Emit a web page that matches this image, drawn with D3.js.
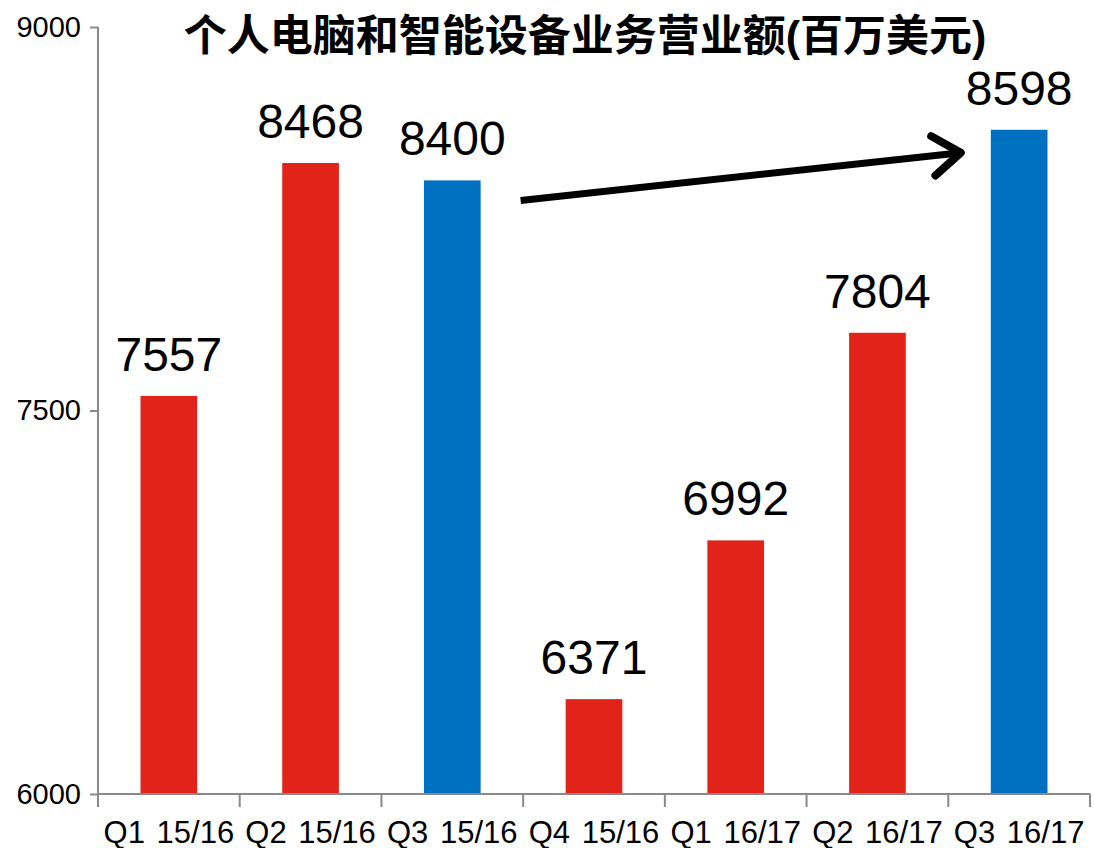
<!DOCTYPE html>
<html>
<head>
<meta charset="utf-8">
<script src="https://cdn.jsdelivr.net/npm/d3@7"></script>
<style>
  body { margin: 0; background: #fff; }
  svg { display: block; font-family: "Liberation Sans", Arial, sans-serif; }
</style>
</head>
<body>
<div class="chart"></div>
<script>
const quarters = ['Q1 15/16', 'Q2 15/16', 'Q3 15/16', 'Q4 15/16', 'Q1 16/17', 'Q2 16/17', 'Q3 16/17'];
const revenue = [7557, 8468, 8400, 6371, 6992, 7804, 8598];
const highlight = ['Q3 15/16', 'Q3 16/17'];
const yTicks = [6000, 7500, 9000];
const title = '个人电脑和智能设备业务营业额(百万美元)';

const width = 1094;
const height = 848;
const margin = {top: 27, right: 4, bottom: 54, left: 98};
const axisColor = '#898989';

const svg = d3.select('.chart')
              .append('svg')
              .attr('width', width)
              .attr('height', height);

const x = d3.scaleBand()
            .domain(quarters)
            .range([margin.left, width - margin.right])
            .paddingInner(0.6)
            .paddingOuter(0.3);

// band edges for the tick marks between categories
const xEdge = d3.scaleLinear()
                .domain([0, quarters.length])
                .range([margin.left, width - margin.right]);

const y = d3.scaleLinear()
            .domain([6000, 9000])
            .range([height - margin.bottom, margin.top]);

svg.selectAll('rect.bar')
   .data(quarters)
   .enter().append('rect')
   .attr('class', 'bar')
   .attr('x', d => x(d))
   .attr('width', x.bandwidth())
   .attr('y', (d, i) => y(revenue[i]))
   .attr('height', (d, i) => y(6000) - y(revenue[i]))
   .attr('fill', d => highlight.includes(d) ? '#0070C0' : '#E2231A');

svg.selectAll('text.value')
   .data(quarters)
   .enter().append('text')
   .attr('class', 'value')
   .attr('x', d => x(d) + x.bandwidth() / 2)
   .attr('y', (d, i) => y(revenue[i]) - 25)
   .attr('text-anchor', 'middle')
   .attr('font-size', 48)
   .attr('fill', '#000')
   .text((d, i) => revenue[i]);

// y axis
const yAxis = svg.append('g')
   .attr('transform', `translate(${margin.left},0)`)
   .call(d3.axisLeft(y).tickValues(yTicks).tickSize(8).tickPadding(9).tickFormat(d3.format('d')));
yAxis.selectAll('line, path').attr('stroke', axisColor).attr('stroke-width', 2);
yAxis.select('.domain').attr('d', `M0,${y(9000)}V${y(6000)}`);
yAxis.selectAll('text').attr('font-size', 29).attr('fill', '#000')
     .attr('font-family', '"Liberation Sans", Arial, sans-serif');

// x axis
const xAxis = svg.append('g')
   .attr('transform', `translate(0,${y(6000)})`);
xAxis.append('line')
   .attr('x1', xEdge(0)).attr('x2', xEdge(quarters.length))
   .attr('stroke', axisColor).attr('stroke-width', 2);
xAxis.selectAll('line.tick')
   .data(d3.range(quarters.length + 1))
   .enter().append('line')
   .attr('class', 'tick')
   .attr('x1', d => xEdge(d)).attr('x2', d => xEdge(d))
   .attr('y1', 0).attr('y2', 13)
   .attr('stroke', axisColor).attr('stroke-width', 2);
xAxis.selectAll('text')
   .data(quarters)
   .enter().append('text')
   .attr('x', d => x(d) + x.bandwidth() / 2)
   .attr('y', 49)
   .attr('text-anchor', 'middle')
   .attr('font-size', 31)
   .attr('word-spacing', 3)
   .attr('fill', '#000')
   .text(d => d);

// title
svg.append('text')
   .attr('x', 585)
   .attr('y', 51)
   .attr('text-anchor', 'middle')
   .attr('font-size', 43)
   .attr('font-weight', 'bold')
   .attr('font-family', '"Liberation Sans", "Noto Sans CJK SC", sans-serif')
   .attr('fill', '#000')
   .text(title);

// growth arrow from Q3 15/16 to Q3 16/17
const x0 = x('Q3 15/16') + x.bandwidth() + 40;
const y0 = y(revenue[2]) + 20;
const x1 = x('Q3 16/17') - 30;
const y1 = y(revenue[6]) + 23;
const ang = Math.atan2(y1 - y0, x1 - x0);
const head = 34;
const spread = 0.62;
svg.append('path')
   .attr('d', `M${x0},${y0}L${x1},${y1}`)
   .attr('stroke', '#000').attr('stroke-width', 7).attr('fill', 'none');
svg.append('path')
   .attr('d', `M${x1 - head * Math.cos(ang - spread)},${y1 - head * Math.sin(ang - spread)}` +
              `L${x1},${y1}` +
              `L${x1 - head * Math.cos(ang + spread)},${y1 - head * Math.sin(ang + spread)}`)
   .attr('stroke', '#000').attr('stroke-width', 8).attr('fill', 'none')
   .attr('stroke-linecap', 'round').attr('stroke-linejoin', 'round');
</script>
</body>
</html>
